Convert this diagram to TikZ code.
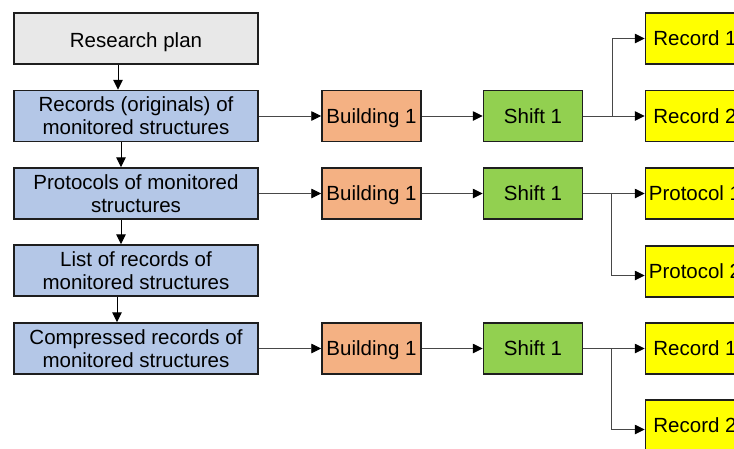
\documentclass[tikz,border=0pt]{standalone}
\usepackage{fontspec}
\setmainfont{Liberation Sans}
\usetikzlibrary{arrows.meta}
\definecolor{plangray}{RGB}{232,232,232}
\definecolor{boxblue}{RGB}{180,199,231}
\definecolor{boxorange}{RGB}{244,177,131}
\definecolor{boxgreen}{RGB}{146,208,80}
\definecolor{boxyellow}{RGB}{255,255,0}
\definecolor{edge}{RGB}{30,30,30}
\tikzset{
  box/.style={draw=edge, line width=1.5pt, rectangle, align=center, inner sep=0pt,
    font=\fontsize{20.5}{23}\selectfont},
  leftbox/.style={box, minimum width=244pt, minimum height=51pt, fill=boxblue},
  smallbox/.style={box, minimum width=99pt, minimum height=51pt, text height=14.8pt, text depth=0pt},
  conn/.style={draw=black!72, line width=0.9pt, -{Triangle[length=10pt,width=9.5pt,black]}},
  vconn/.style={draw=black, line width=1pt, -{Triangle[length=10pt,width=9.5pt,black]}}
}
\begin{document}
\begin{tikzpicture}[x=1pt,y=-1pt]
\useasboundingbox (0,0) rectangle (734,448);
\begin{scope}
\clip (0,0) rectangle (734,448);
% left column
\node[leftbox, fill=plangray, text height=18.4pt, text depth=0pt] (plan) at (136,38.5) {Research plan};
\node[leftbox] (rec) at (136,116) {Records (originals) of\\monitored structures};
\node[leftbox] (prot) at (136,193.5) {Protocols of monitored\\structures};
\node[leftbox] (list) at (136,270.5) {List of records of\\monitored structures};
\node[leftbox] (comp) at (136,348.5) {Compressed records of\\monitored structures};
% buildings
\node[smallbox, fill=boxorange] (b1) at (371.5,116) {Building 1};
\node[smallbox, fill=boxorange] (b2) at (371.5,193.5) {Building 1};
\node[smallbox, fill=boxorange] (b3) at (371.5,348.5) {Building 1};
% shifts
\node[smallbox, fill=boxgreen] (s1) at (533,116) {Shift 1};
\node[smallbox, fill=boxgreen] (s2) at (533,193.5) {Shift 1};
\node[smallbox, fill=boxgreen] (s3) at (533,348.5) {Shift 1};
% outputs
\node[smallbox, fill=boxyellow] (r11) at (695,38.5) {Record 1};
\node[smallbox, fill=boxyellow] (r12) at (695,116) {Record 2};
\node[smallbox, fill=boxyellow] (p1) at (695,193.5) {Protocol 1};
\node[smallbox, fill=boxyellow] (p2) at (695,271.5) {Protocol 2};
\node[smallbox, fill=boxyellow] (r31) at (695,348.5) {Record 1};
\node[smallbox, fill=boxyellow] (r32) at (695,425.5) {Record 2};
% junctions
\coordinate (j1) at (612,116);
\coordinate (j2) at (611,193.5);
\coordinate (j3) at (611,348.5);
% left vertical arrows
\draw[vconn] ([xshift=-18pt]plan.south) -- ([xshift=-18pt]rec.north);
\draw[vconn] ([xshift=-15pt]rec.south) -- ([xshift=-15pt]prot.north);
\draw[vconn] ([xshift=-15pt]prot.south) -- ([xshift=-15pt]list.north);
\draw[vconn] ([xshift=-19pt]list.south) -- ([xshift=-19pt]comp.north);
% row connectors
\draw[conn] (rec) -- (b1);
\draw[conn] (b1) -- (s1);
\draw[conn] (prot) -- (b2);
\draw[conn] (b2) -- (s2);
\draw[conn] (comp) -- (b3);
\draw[conn] (b3) -- (s3);
% branches
\draw[conn] (s1) -- (r12);
\draw[conn] (j1) |- (r11.west);
\draw[conn] (s2) -- (p1);
\draw[conn] (j2) |- ([yshift=-4pt]p2.west);
\draw[conn] (s3) -- (r31);
\draw[conn] (j3) |- ([yshift=-4pt]r32.west);
\end{scope}
\end{tikzpicture}
\end{document}
